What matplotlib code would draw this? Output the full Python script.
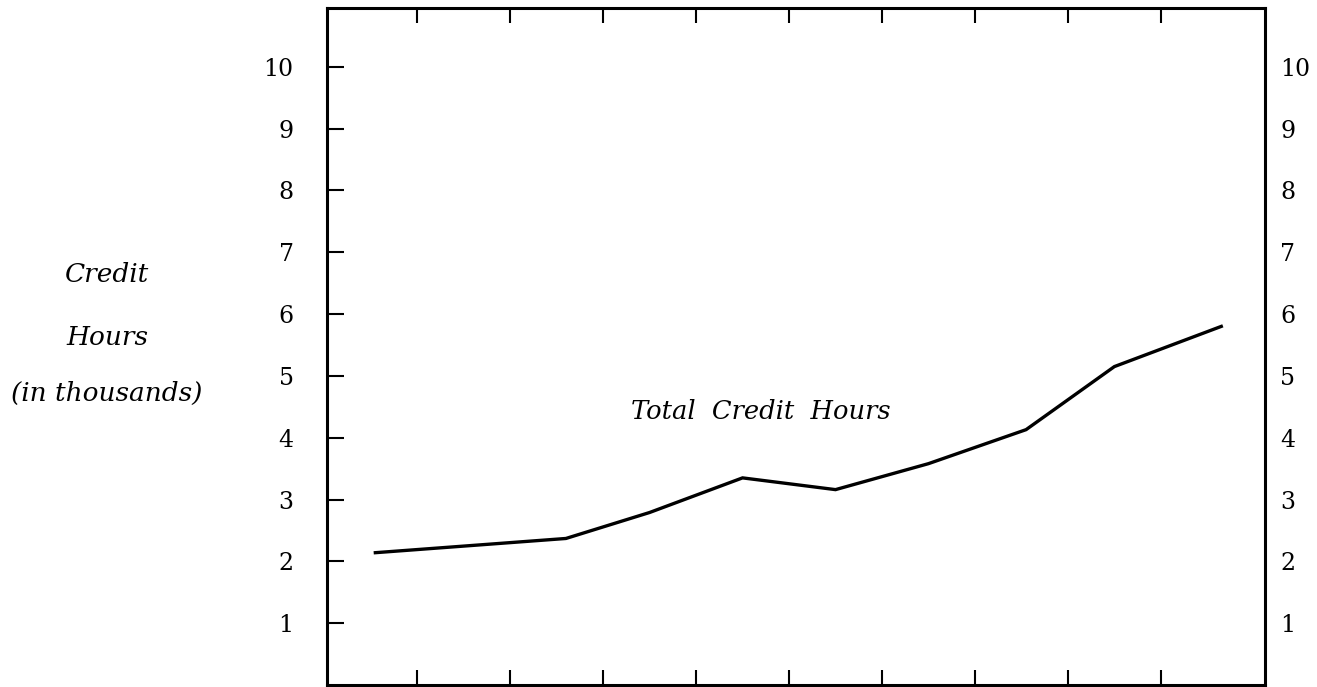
import matplotlib.pyplot as plt

year_pos = [0.55, 2.6, 3.5, 4.5, 5.5, 6.5, 7.55, 8.5, 9.65]
credit_hours = [2.14, 2.37, 2.79, 3.35, 3.16, 3.58, 4.13, 5.15, 5.80]
x_ticks = [1, 2, 3, 4, 5, 6, 7, 8, 9]
y_ticks = [1, 2, 3, 4, 5, 6, 7, 8, 9, 10]
ylabel_lines = ["Credit", "Hours", "(in thousands)"]
series_label = "Total  Credit  Hours"

serif = ["DejaVu Serif"]

fig = plt.figure(figsize=(13.17, 6.87), dpi=100)
ax = fig.add_axes([0.2483, 0.0029, 0.9605 - 0.2483, 0.9884 - 0.0029])

ax.plot(year_pos, credit_hours, color="black", linewidth=2.4, solid_joinstyle="miter")

ax.set_xlim(0.03, 10.12)
ax.set_ylim(0, 10.95)
ax.set_xticks(x_ticks)
ax.set_xticklabels([])
ax.set_yticks(y_ticks)
ax.set_yticklabels([str(v) for v in y_ticks], family=serif, fontsize=17)

ax.tick_params(axis="x", direction="in", top=True, bottom=True, length=11, width=1.5)
ax.tick_params(axis="y", direction="in", left=True, right=True, length=12, width=1.5, pad=24)

for s in ax.spines.values():
    s.set_linewidth(2.2)

# right side labels need a smaller gap than the left
ax2 = ax.twinx()
ax2.set_ylim(ax.get_ylim())
ax2.set_yticks(y_ticks)
ax2.set_yticklabels([str(v) for v in y_ticks], family=serif, fontsize=17)
ax2.tick_params(axis="y", direction="in", length=0, pad=11)
for s in ax2.spines.values():
    s.set_visible(False)

ax.text(4.70, 4.42, series_label, family=serif, style="italic", fontsize=18.5,
        ha="center", va="center")

label_y = [275, 337, 393]
for txt, py in zip(ylabel_lines, label_y):
    fig.text(107 / 1317, 1 - py / 687, txt, family=serif, style="italic",
             fontsize=19, ha="center", va="center")

fig.savefig("out.png", dpi=100, facecolor="white")
